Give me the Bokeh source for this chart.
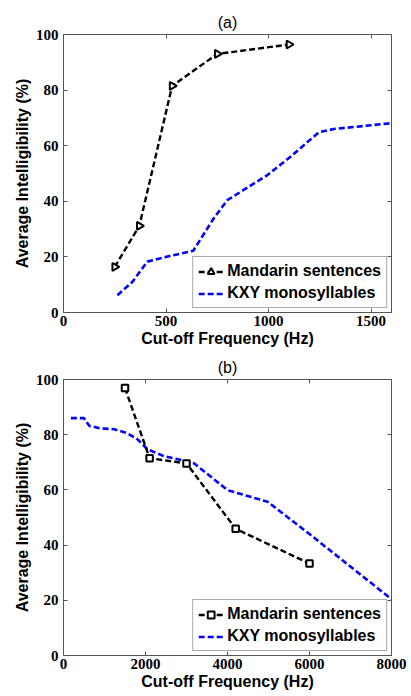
import numpy as np
from bokeh.plotting import figure
from bokeh.layouts import column
from bokeh.models import (Range1d, LinearAxis, FixedTicker, Legend, LegendItem,
                          ColumnDataSource)
from bokeh.embed import file_html
from bokeh.resources import INLINE

# ---- data (a) ----
a_sent_x = [250, 370, 530, 750, 1100]
a_sent_y = [16.4, 31.2, 81.5, 93.0, 96.4]
a_kxy_x = [263, 336, 409, 523, 633, 734, 799, 994, 1107, 1245, 1318, 1600]
a_kxy_y = [6.2, 11.0, 18.3, 20.4, 22.2, 34.0, 40.4, 49.4, 56.0, 64.8, 66.0, 68.1]
a_xticks = [0, 500, 1000, 1500]

# ---- data (b) ----
b_sent_x = [1500, 2100, 3000, 4200, 6000]
b_sent_y = [96.9, 71.5, 69.6, 45.9, 33.3]
b_kxy_x = [180, 500, 630, 900, 1240, 1560, 1800, 2050, 2450, 2950, 3190, 4000, 4980, 6000, 8000]
b_kxy_y = [86.0, 86.0, 83.2, 82.3, 82.0, 80.5, 78.4, 74.7, 72.2, 70.6, 69.6, 59.9, 55.7, 44.0, 20.4]
b_xticks = [0, 2000, 4000, 6000, 8000]

y_ticks = [0, 20, 40, 60, 80, 100]
series_labels = ["Mandarin sentences", "KXY monosyllables"]

FRAME = "#555555"
SANS = "Liberation Sans"
SERIF = "Liberation Serif"


def style_axis(ax, ticks):
    ax.ticker = FixedTicker(ticks=ticks)
    ax.major_tick_in = 4
    ax.major_tick_out = 0
    ax.minor_tick_line_color = None
    ax.axis_line_color = FRAME
    ax.major_tick_line_color = FRAME
    ax.major_label_text_font = SERIF
    ax.major_label_text_font_style = "bold"
    ax.major_label_text_font_size = "15px"
    ax.major_label_text_color = "black"
    ax.axis_label_text_font = SANS
    ax.axis_label_text_font_style = "bold"
    ax.axis_label_text_font_size = "16px"
    ax.axis_label_text_color = "black"


def mirror_axis(ticks):
    ax = LinearAxis(ticker=FixedTicker(ticks=ticks))
    ax.major_tick_in = 4
    ax.major_tick_out = 0
    ax.minor_tick_line_color = None
    ax.axis_line_color = None
    ax.major_tick_line_color = FRAME
    ax.major_label_text_font_size = "0px"
    ax.major_label_text_color = None
    ax.major_label_standoff = 0
    return ax


def make_fig(height, top, bottom, title, xmax, xticks, sx, sy, kx, ky,
             marker, msize, angle, title_standoff):
    p = figure(width=411, height=height, x_range=Range1d(0, xmax),
               y_range=Range1d(0, 100), output_backend="svg",
               toolbar_location=None, min_border_left=63,
               min_border_right=20, min_border_top=top,
               min_border_bottom=bottom)
    p.title.text = title
    p.title.align = "center"
    p.title.text_font = SANS
    p.title.text_font_style = "normal"
    p.title.text_font_size = "16px"
    p.title.text_color = "black"
    p.title.standoff = title_standoff
    p.xgrid.visible = False
    p.ygrid.visible = False
    p.outline_line_color = FRAME
    p.outline_line_width = 1
    p.background_fill_color = "white"
    p.border_fill_color = "white"

    style_axis(p.xaxis[0], xticks)
    style_axis(p.yaxis[0], y_ticks)
    p.xaxis[0].axis_label = "Cut-off Frequency (Hz)"
    p.xaxis[0].major_label_standoff = 3
    p.xaxis[0].axis_label_standoff = 1
    p.yaxis[0].axis_label = "Average Intelligibility (%)"
    p.yaxis[0].major_label_standoff = 5
    p.yaxis[0].axis_label_standoff = 2

    p.add_layout(mirror_axis(xticks), "above")
    p.add_layout(mirror_axis(y_ticks), "right")

    src = ColumnDataSource(dict(x=sx, y=sy, a=[angle] * len(sx)))
    rk = p.line(kx, ky, line_color="#0000ff", line_width=2.6, line_dash="6 3")
    rl = p.line(sx, sy, line_color="black", line_width=2.4, line_dash="6 3")
    rs = p.scatter("x", "y", source=src, marker=marker, size=msize, angle="a",
                   fill_color="white", line_color="black", line_width=2)

    legend = Legend(items=[LegendItem(label=series_labels[0], renderers=[rl, rs], index=0),
                           LegendItem(label=series_labels[1], renderers=[rk])],
                    location="bottom_right")
    legend.margin = 4
    legend.padding = 5
    legend.spacing = 4
    legend.label_height = 17
    legend.glyph_height = 17
    legend.glyph_width = 25
    legend.label_standoff = 4
    legend.label_text_font = SANS
    legend.label_text_font_style = "bold"
    legend.label_text_font_size = "16px"
    legend.label_text_color = "black"
    legend.border_line_color = FRAME
    legend.border_line_width = 1
    legend.background_fill_color = "white"
    legend.background_fill_alpha = 1
    p.add_layout(legend)
    return p


pa = make_fig(352, 34, 40, "(a)", 1600, a_xticks, a_sent_x, a_sent_y,
              a_kxy_x, a_kxy_y, "triangle", 8, -np.pi / 2, 7)
pb = make_fig(344, 27, 41, "(b)", 8000, b_xticks, b_sent_x, b_sent_y,
              b_kxy_x, b_kxy_y, "square", 6.5, 0.0, 7)

layout = column(pa, pb)
open("out.html", "w").write(file_html(layout, INLINE))
